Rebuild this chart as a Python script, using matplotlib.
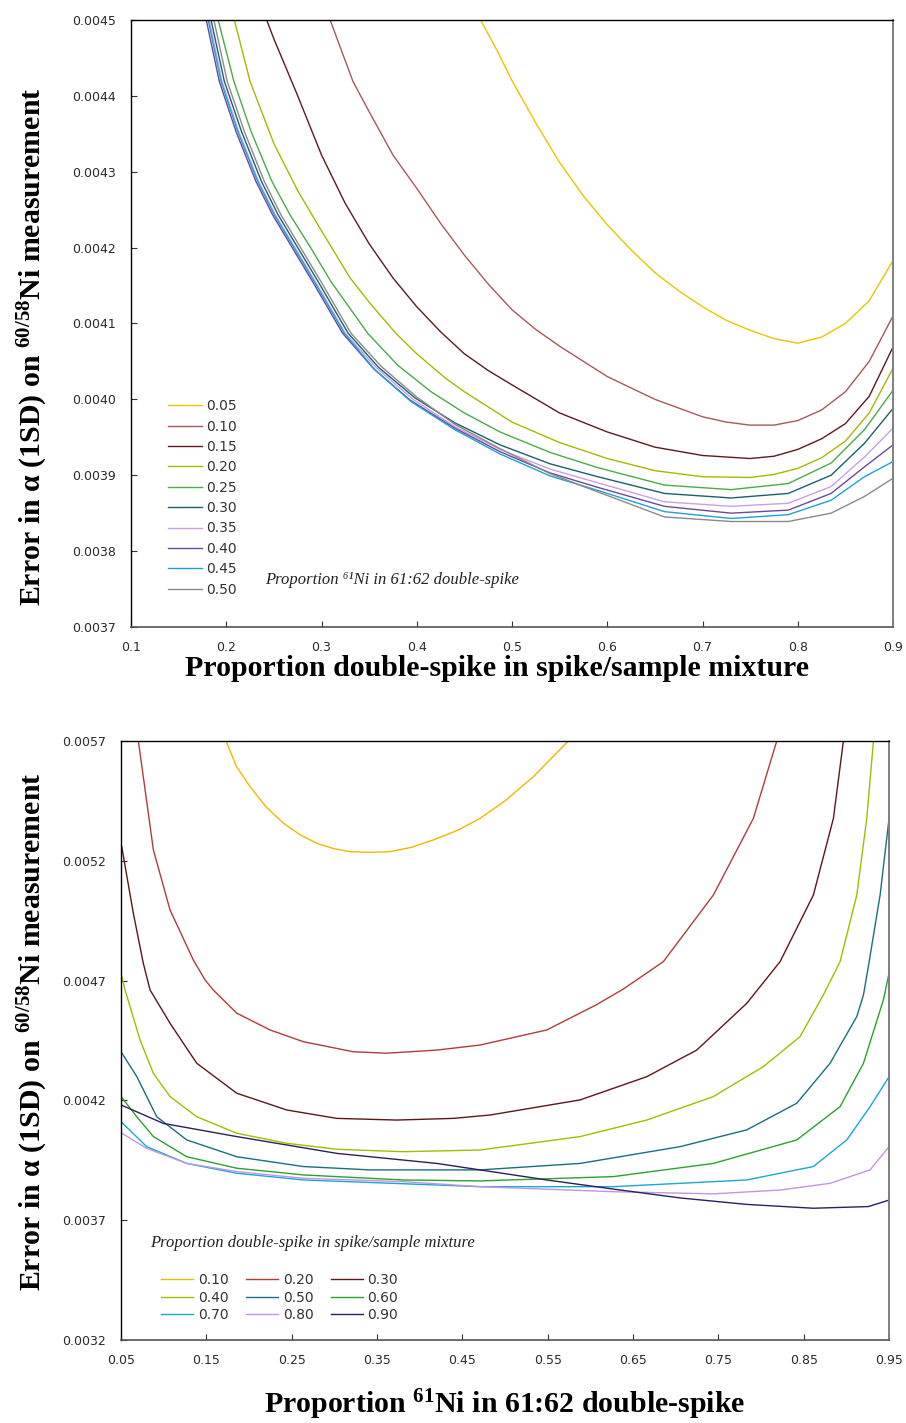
import matplotlib
matplotlib.use("Agg")
import matplotlib.pyplot as plt
from matplotlib import font_manager

# ---------------- data: upper panel (x = proportion double-spike in mixture) ----------------
top_labels = ["0.05", "0.10", "0.15", "0.20", "0.25", "0.30", "0.35", "0.40", "0.45", "0.50"]
top_colors = ["#E8C600", "#A65A58", "#5A1C1C", "#A8B800", "#4CAA48",
              "#1E5E6C", "#C9A0E6", "#6A4A98", "#1FA0D8", "#8A8A8A"]

t05_x = [0.467, 0.485, 0.50, 0.525, 0.55, 0.575, 0.60, 0.625, 0.65, 0.675, 0.70, 0.725, 0.75, 0.775, 0.80,
         0.825, 0.85, 0.875, 0.90]
t05_y = [0.00450, 0.004458, 0.004420, 0.004364, 0.004312, 0.004268, 0.004230, 0.004197, 0.004167, 0.004143,
         0.004122, 0.004104, 0.004091, 0.004080, 0.004074, 0.004082, 0.004100, 0.004130, 0.004183]

t10_x = [0.309, 0.333, 0.35, 0.375, 0.40, 0.425, 0.45, 0.475, 0.50, 0.525, 0.55, 0.60, 0.65, 0.70, 0.725, 0.75,
         0.775, 0.80, 0.825, 0.85, 0.875, 0.90]
t10_y = [0.00450, 0.004419, 0.004379, 0.004322, 0.004278, 0.004232, 0.004190, 0.004152, 0.004118, 0.004092,
         0.004070, 0.004030, 0.004000, 0.003977, 0.003970, 0.003966, 0.003966, 0.003972, 0.003986, 0.004010,
         0.004050, 0.004110]

t15_x = [0.2424, 0.25, 0.275, 0.30, 0.325, 0.35, 0.375, 0.40, 0.425, 0.45, 0.475, 0.50, 0.55, 0.60, 0.65, 0.70,
         0.75, 0.775, 0.80, 0.825, 0.85, 0.875, 0.90]
t15_y = [0.00450, 0.004475, 0.004400, 0.004322, 0.004258, 0.004205, 0.004160, 0.004122, 0.004089, 0.004060,
         0.004038, 0.004019, 0.003982, 0.003957, 0.003937, 0.003926, 0.003922, 0.003925, 0.003934, 0.003948,
         0.003968, 0.004004, 0.004069]

t20_x = [0.2085, 0.225, 0.25, 0.275, 0.30, 0.33, 0.35, 0.378, 0.40, 0.43, 0.45, 0.50, 0.55, 0.60, 0.65, 0.70,
         0.75, 0.775, 0.80, 0.825, 0.85, 0.875, 0.90]
t20_y = [0.00450, 0.004419, 0.004337, 0.004275, 0.004222, 0.004160, 0.004128, 0.004087, 0.004060, 0.004028,
         0.004010, 0.003970, 0.003943, 0.003922, 0.003906, 0.003898, 0.003897, 0.003901, 0.003909, 0.003923,
         0.003945, 0.003982, 0.004041]

t25_x = [0.1915, 0.208, 0.226, 0.248, 0.267, 0.289, 0.31, 0.3485, 0.38, 0.415, 0.45, 0.4874, 0.54, 0.59, 0.66,
         0.73, 0.79, 0.835, 0.87, 0.90]
t25_y = [0.00450, 0.004419, 0.004353, 0.004287, 0.004243, 0.004199, 0.004155, 0.004087, 0.004045, 0.004010,
         0.003982, 0.003957, 0.003930, 0.003910, 0.003887, 0.003881, 0.003889, 0.003916, 0.003960, 0.004012]

t30_x = [0.184, 0.198, 0.216, 0.237, 0.2545, 0.2755, 0.2965, 0.328, 0.36, 0.398, 0.44, 0.4874, 0.54, 0.59, 0.66,
         0.73, 0.79, 0.835, 0.87, 0.90]
t30_y = [0.00450, 0.004419, 0.004353, 0.004287, 0.004243, 0.004199, 0.004155, 0.004087, 0.004042, 0.004002,
         0.003969, 0.003940, 0.003915, 0.003898, 0.003876, 0.003870, 0.003876, 0.003900, 0.003942, 0.003988]

t35_x = [0.182, 0.1955, 0.213, 0.234, 0.2515, 0.2725, 0.2935, 0.325, 0.358, 0.396, 0.44, 0.4874, 0.54, 0.59,
         0.66, 0.73, 0.79, 0.835, 0.87, 0.90]
t35_y = [0.00450, 0.004419, 0.004353, 0.004287, 0.004243, 0.004199, 0.004155, 0.004087, 0.004041, 0.004000,
         0.003964, 0.003934, 0.003908, 0.003890, 0.003865, 0.003859, 0.003863, 0.003885, 0.003924, 0.003962]

t40_x = [0.179, 0.1927, 0.2102, 0.2312, 0.2487, 0.2697, 0.2907, 0.3222, 0.355, 0.393, 0.44, 0.4874, 0.54, 0.59,
         0.66, 0.73, 0.79, 0.835, 0.87, 0.90]
t40_y = [0.00450, 0.004419, 0.004353, 0.004287, 0.004243, 0.004199, 0.004155, 0.004087, 0.004040, 0.003999,
         0.003962, 0.003931, 0.003903, 0.003884, 0.003859, 0.003850, 0.003854, 0.003876, 0.003911, 0.003940]

t45_x = [0.181, 0.1945, 0.212, 0.233, 0.2505, 0.2715, 0.2925, 0.324, 0.356, 0.394, 0.44, 0.4874, 0.54, 0.59,
         0.66, 0.73, 0.79, 0.835, 0.87, 0.90]
t45_y = [0.00450, 0.004419, 0.004353, 0.004287, 0.004243, 0.004199, 0.004155, 0.004087, 0.004039, 0.003997,
         0.003960, 0.003928, 0.003899, 0.003880, 0.003852, 0.003843, 0.003848, 0.003867, 0.003898, 0.003918]

t50_x = [0.187, 0.201, 0.219, 0.240, 0.2575, 0.2785, 0.2995, 0.331, 0.363, 0.40, 0.44, 0.4874, 0.54, 0.59,
         0.66, 0.73, 0.79, 0.835, 0.87, 0.90]
t50_y = [0.00450, 0.004419, 0.004353, 0.004287, 0.004243, 0.004199, 0.004155, 0.004087, 0.004043, 0.004003,
         0.003967, 0.003935, 0.003902, 0.003878, 0.003845, 0.003839, 0.003839, 0.003850, 0.003872, 0.003896]

top_series = [(t05_x, t05_y), (t10_x, t10_y), (t15_x, t15_y), (t20_x, t20_y), (t25_x, t25_y),
              (t30_x, t30_y), (t35_x, t35_y), (t40_x, t40_y), (t45_x, t45_y), (t50_x, t50_y)]

top_xticks = [0.1, 0.2, 0.3, 0.4, 0.5, 0.6, 0.7, 0.8, 0.9]
top_yticks = [0.0037, 0.0038, 0.0039, 0.0040, 0.0041, 0.0042, 0.0043, 0.0044, 0.0045]

# ---------------- data: lower panel (x = proportion 61Ni in double-spike) ----------------
bot_labels = ["0.10", "0.20", "0.30", "0.40", "0.50", "0.60", "0.70", "0.80", "0.90"]
bot_colors = ["#F0B800", "#B23C3A", "#5C1818", "#9CC000", "#1A6E80",
              "#2EA02E", "#18A8D4", "#C294E4", "#2E1E5C"]

b10_x = [0.1731, 0.185, 0.2012, 0.22, 0.2402, 0.26, 0.2793, 0.30, 0.3184, 0.3418, 0.3652, 0.39, 0.416, 0.445,
         0.4707, 0.50, 0.5332, 0.5742]
b10_y = [0.0057, 0.005595, 0.005509, 0.005425, 0.005357, 0.005308, 0.005273, 0.005250, 0.005238, 0.005235,
         0.005238, 0.005256, 0.005287, 0.005328, 0.005377, 0.005450, 0.005551, 0.0057]

b20_x = [0.0703, 0.0879, 0.1074, 0.1347, 0.1484, 0.158, 0.1856, 0.2246, 0.2636, 0.3222, 0.3613, 0.42, 0.4707,
         0.5489, 0.6075, 0.6387, 0.6855, 0.7441, 0.791, 0.8184]
b20_y = [0.0057, 0.005245, 0.004995, 0.004786, 0.004703, 0.004661, 0.004564, 0.004494, 0.004445, 0.004403,
         0.004397, 0.004410, 0.004431, 0.004494, 0.004600, 0.004665, 0.004779, 0.005057, 0.005377, 0.0057]

b30_x = [0.0508, 0.0644, 0.0761, 0.084, 0.1074, 0.1387, 0.1856, 0.2442, 0.3028, 0.3731, 0.4395, 0.4824, 0.5879,
         0.6661, 0.7246, 0.7832, 0.8223, 0.8613, 0.8848, 0.8965]
b30_y = [0.005259, 0.004981, 0.004772, 0.004661, 0.004522, 0.004355, 0.004230, 0.004160, 0.004125, 0.004118,
         0.004125, 0.004139, 0.004202, 0.004299, 0.004410, 0.004605, 0.004779, 0.005057, 0.005377, 0.0057]

b40_x = [0.05, 0.0547, 0.0723, 0.0879, 0.1074, 0.1387, 0.1856, 0.2442, 0.3028, 0.3808, 0.4707, 0.5879, 0.6661,
         0.7441, 0.8027, 0.8457, 0.873, 0.8926, 0.9122, 0.9239, 0.9317]
b40_y = [0.00473, 0.004661, 0.004452, 0.004313, 0.004216, 0.004132, 0.004063, 0.004021, 0.003996, 0.003986,
         0.003993, 0.004049, 0.004118, 0.004216, 0.004341, 0.004466, 0.004640, 0.004779, 0.005057, 0.005377, 0.0057]

b50_x = [0.05, 0.0684, 0.0918, 0.127, 0.1856, 0.2636, 0.3418, 0.4707, 0.5879, 0.7051, 0.7832, 0.8418, 0.8809,
         0.9122, 0.92, 0.9258, 0.9395, 0.95]
b50_y = [0.004403, 0.004300, 0.004132, 0.004035, 0.003965, 0.003924, 0.003910, 0.003910, 0.003937, 0.004007,
         0.004077, 0.004188, 0.004355, 0.004550, 0.004640, 0.004760, 0.005057, 0.005377]

b60_x = [0.05, 0.0684, 0.0879, 0.127, 0.1856, 0.2636, 0.3808, 0.4707, 0.6269, 0.7441, 0.8418, 0.8926, 0.92,
         0.9434, 0.95]
b60_y = [0.004216, 0.004132, 0.004049, 0.003965, 0.003917, 0.003889, 0.003868, 0.003864, 0.003882, 0.003937,
         0.004035, 0.004174, 0.004355, 0.004620, 0.004731]

b70_x = [0.05, 0.0801, 0.127, 0.1856, 0.2636, 0.42, 0.4707, 0.6269, 0.7832, 0.8613, 0.9004, 0.9278, 0.95]
b70_y = [0.004111, 0.004007, 0.003937, 0.003896, 0.003868, 0.003847, 0.003840, 0.003840, 0.003868, 0.003924,
         0.004035, 0.004174, 0.004299]

b80_x = [0.05, 0.0801, 0.127, 0.1856, 0.2636, 0.3808, 0.4707, 0.6269, 0.7441, 0.8223, 0.8809, 0.9278, 0.95]
b80_y = [0.004065, 0.004000, 0.003937, 0.003903, 0.003875, 0.003861, 0.003840, 0.003819, 0.003810, 0.003826,
         0.003854, 0.003910, 0.004007]

b90_x = [0.05, 0.0996, 0.1856, 0.3028, 0.42, 0.4707, 0.5489, 0.6269, 0.7051, 0.7832, 0.8613, 0.9258, 0.95]
b90_y = [0.004181, 0.004104, 0.004049, 0.003979, 0.003937, 0.003910, 0.003868, 0.003830, 0.003793, 0.003766,
         0.003750, 0.003757, 0.003784]

bot_series = [(b10_x, b10_y), (b20_x, b20_y), (b30_x, b30_y), (b40_x, b40_y), (b50_x, b50_y),
              (b60_x, b60_y), (b70_x, b70_y), (b80_x, b80_y), (b90_x, b90_y)]

bot_xticks = [0.05, 0.15, 0.25, 0.35, 0.45, 0.55, 0.65, 0.75, 0.85, 0.95]
bot_yticks = [0.0032, 0.0037, 0.0042, 0.0047, 0.0052, 0.0057]

# ---------------- fonts ----------------
installed = {f.name for f in font_manager.fontManager.ttflist}
tick_family = "Liberation Sans Narrow" if "Liberation Sans Narrow" in installed else "DejaVu Sans"
serif = ["Liberation Serif", "DejaVu Serif"]

plt.rcParams["mathtext.fontset"] = "custom"
plt.rcParams["mathtext.rm"] = "Liberation Serif:bold"
plt.rcParams["mathtext.bf"] = "Liberation Serif:bold"
plt.rcParams["mathtext.it"] = "Liberation Serif:bold:italic"

fig = plt.figure(figsize=(9.06, 14.23), dpi=100)
ax1 = fig.add_axes([0.1446, 0.5594, 0.8411, 0.4266])
ax2 = fig.add_axes([0.1336, 0.0583, 0.8477, 0.4210])

LABEL_SIZE = 21.5


def style_axes(ax, xticks, yticks, xfmt, yfmt):
    ax.set_xticks(xticks)
    ax.set_yticks(yticks)
    ax.set_xticklabels([xfmt.format(v) for v in xticks])
    ax.set_yticklabels([yfmt.format(v) for v in yticks])
    ax.tick_params(direction="in", length=4, width=0.8, color="#333333", labelcolor="#2a2a2a")
    ax.tick_params(axis="y", pad=11)
    ax.tick_params(axis="x", pad=10)
    for lab in ax.get_xticklabels() + ax.get_yticklabels():
        lab.set_family(tick_family)
        lab.set_fontsize(11.5 if tick_family != "DejaVu Sans" else 9)
    for side in ["left", "top"]:
        ax.spines[side].set_color("black")
        ax.spines[side].set_linewidth(1.0)
    ax.spines["right"].set_color("#808080")
    ax.spines["right"].set_linewidth(1.4)
    ax.spines["bottom"].set_color("#555555")
    ax.spines["bottom"].set_linewidth(1.2)


# ---------------- upper panel ----------------
for (xs, ys), lab, col in zip(top_series, top_labels, top_colors):
    ax1.plot(xs, ys, color=col, lw=1.0, label=lab)
ax1.set_xlim(0.1, 0.9)
ax1.set_ylim(0.0037, 0.0045)
style_axes(ax1, top_xticks, top_yticks, "{:.1f}", "{:.4f}")

leg1 = ax1.legend(loc="lower left", bbox_to_anchor=(0.048, 0.05), frameon=False,
                  prop={"family": "DejaVu Sans", "size": 10}, handlelength=2.45,
                  handletextpad=0.35, labelspacing=0.46, borderpad=0, borderaxespad=0)
for t in leg1.get_texts():
    t.set_color("#333333")
ax1.text(0.176, 0.077, "Proportion \u2076\u00b9Ni in 61:62 double-spike", transform=ax1.transAxes,
         family=serif, style="italic", fontsize=12, color="#222222", va="center", ha="left")

ax1.set_xlabel("Proportion double-spike in spike/sample mixture", family=serif,
               fontweight="bold", fontsize=LABEL_SIZE)
ax1.set_ylabel(r"Error in α (1SD) on $^{\mathbf{60/58}}$Ni measurement", family=serif,
               fontweight="bold", fontsize=LABEL_SIZE)
ax1.xaxis.set_label_coords(0.48, -0.046)
ax1.yaxis.set_label_coords(-0.106, 0.462)

# ---------------- lower panel ----------------
bot_handles = []
for (xs, ys), lab, col in zip(bot_series, bot_labels, bot_colors):
    line, = ax2.plot(xs, ys, color=col, lw=1.0, label=lab)
    bot_handles.append(line)
ax2.set_xlim(0.05, 0.95)
ax2.set_ylim(0.0032, 0.0057)
style_axes(ax2, bot_xticks, bot_yticks, "{:.2f}", "{:.4f}")

# three columns read row by row: reorder for column-major filling
order = [0, 3, 6, 1, 4, 7, 2, 5, 8]
leg2 = ax2.legend([bot_handles[i] for i in order], [bot_labels[i] for i in order],
                  loc="lower left", bbox_to_anchor=(0.052, 0.03), ncol=3, frameon=False,
                  prop={"family": "DejaVu Sans", "size": 10}, handlelength=2.3,
                  handletextpad=0.35, labelspacing=0.25, columnspacing=1.25,
                  borderpad=0, borderaxespad=0)
for t in leg2.get_texts():
    t.set_color("#333333")
ax2.text(0.038, 0.162, "Proportion double-spike in spike/sample mixture", transform=ax2.transAxes,
         family=serif, style="italic", fontsize=12, color="#222222", va="center", ha="left")

ax2.set_xlabel(r"Proportion $^{\mathbf{61}}$Ni in 61:62 double-spike", family=serif,
               fontweight="bold", fontsize=LABEL_SIZE)
ax2.set_ylabel(r"Error in α (1SD) on $^{\mathbf{60/58}}$Ni measurement", family=serif,
               fontweight="bold", fontsize=LABEL_SIZE)
ax2.xaxis.set_label_coords(0.5, -0.08)
ax2.yaxis.set_label_coords(-0.093, 0.515)

fig.savefig("out.png", dpi=100, facecolor="white")
